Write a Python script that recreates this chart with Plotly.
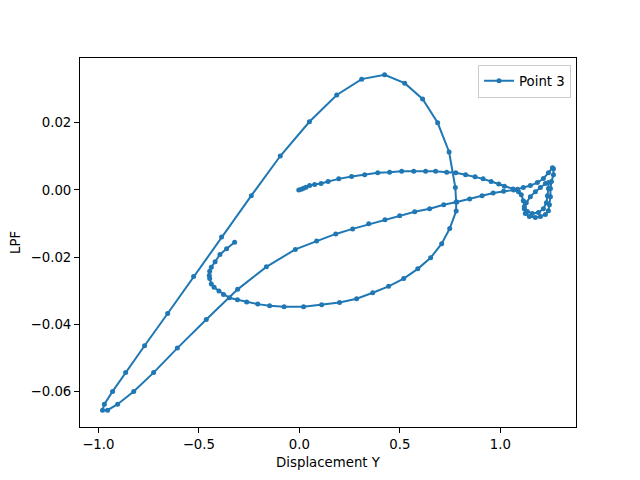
import plotly.graph_objects as go

# Trajectory of "Point 3": Displacement Y vs LPF
disp_y = [
    -0.003, 0.010, 0.021, 0.033, 0.051, 0.076, 0.108, 0.143, 0.196, 0.260,
    0.325, 0.390, 0.449, 0.509, 0.569, 0.628, 0.678, 0.733, 0.778, 0.827,
    0.874, 0.914, 0.954, 0.992, 1.020, 1.063,
    1.085, 1.114, 1.149, 1.184, 1.214, 1.239, 1.259, 1.264, 1.264, 1.254,
    1.249, 1.249, 1.244, 1.239, 1.224, 1.199, 1.174, 1.144, 1.124, 1.119,
    1.129, 1.149, 1.174, 1.199, 1.224, 1.239, 1.239, 1.234, 1.229, 1.214,
    1.189, 1.159, 1.134, 1.119, 1.114, 1.104, 1.090,
    1.066, 1.016, 0.964, 0.909, 0.847, 0.783, 0.718, 0.648, 0.574, 0.499,
    0.426, 0.345, 0.265, 0.181, 0.086, -0.020, -0.164, -0.307, -0.463, -0.607,
    -0.725, -0.824, -0.904, -0.954, -0.979,
    -0.970, -0.929, -0.864, -0.770, -0.655, -0.526, -0.387, -0.239, -0.095, 0.050,
    0.186, 0.310, 0.424, 0.524, 0.613, 0.688, 0.745, 0.776, 0.780, 0.780,
    0.748, 0.708, 0.653, 0.589, 0.519, 0.444, 0.365, 0.285, 0.200, 0.111,
    0.021, -0.076, -0.148, -0.207, -0.262, -0.308, -0.348, -0.377, -0.400, -0.424,
    -0.438, -0.446, -0.448, -0.446, -0.438, -0.419, -0.395, -0.362, -0.322,
]
lpf = [
    0.0000, 0.0002, 0.0005, 0.0008, 0.0013, 0.0016, 0.0019, 0.0025, 0.0033, 0.0040,
    0.0045, 0.0051, 0.0053, 0.0056, 0.0056, 0.0056, 0.0056, 0.0053, 0.0051, 0.0045,
    0.0039, 0.0033, 0.0025, 0.0018, 0.0011, 0.0003,
    0.0002, 0.0007, 0.0013, 0.0022, 0.0034, 0.0051, 0.0066, 0.0063, 0.0045, 0.0025,
    0.0004, -0.0020, -0.0044, -0.0062, -0.0073, -0.0079, -0.0082, -0.0079, -0.0070, -0.0056,
    -0.0038, -0.0020, -0.0005, 0.0007, 0.0019, 0.0022, 0.0004, -0.0017, -0.0038, -0.0056,
    -0.0067, -0.0070, -0.0064, -0.0050, -0.0032, -0.0014, -0.0005,
    0.0000, -0.0004, -0.0009, -0.0017, -0.0027, -0.0036, -0.0044, -0.0056, -0.0065, -0.0077,
    -0.0089, -0.0101, -0.0116, -0.0131, -0.0152, -0.0177, -0.0229, -0.0296, -0.0386, -0.0471,
    -0.0544, -0.0600, -0.0638, -0.0656, -0.0656,
    -0.0638, -0.0600, -0.0544, -0.0464, -0.0368, -0.0258, -0.0140, -0.0017, 0.0101, 0.0203,
    0.0283, 0.0330, 0.0343, 0.0318, 0.0271, 0.0200, 0.0113, 0.0007, -0.0036, -0.0063,
    -0.0115, -0.0160, -0.0202, -0.0235, -0.0264, -0.0287, -0.0306, -0.0324, -0.0335, -0.0342,
    -0.0348, -0.0348, -0.0345, -0.0340, -0.0334, -0.0327, -0.0321, -0.0311, -0.0301, -0.0290,
    -0.0280, -0.0264, -0.0255, -0.0242, -0.0230, -0.0214, -0.0192, -0.0175, -0.0156,
]

x_ticks = [-1.0, -0.5, 0.0, 0.5, 1.0]
y_ticks = [0.02, 0.00, -0.02, -0.04, -0.06]
series_name = "Point 3"


def fmt(v, nd):
    s = f"{v:.{nd}f}"
    return s.replace("-", "\u2212")


# matplotlib-style 5% autoscale margins
xmin, xmax = min(disp_y), max(disp_y)
ymin, ymax = min(lpf), max(lpf)
xpad = 0.05 * (xmax - xmin)
ypad = 0.05 * (ymax - ymin)

color = "#1f77b4"
font = dict(family="DejaVu Sans", size=13.3, color="black")

fig = go.Figure()
fig.add_trace(go.Scatter(
    x=disp_y, y=lpf, mode="lines+markers", name=series_name,
    line=dict(color=color, width=2),
    marker=dict(color=color, size=5),
    showlegend=True,
))

axis_common = dict(
    showgrid=False, zeroline=False, automargin=False,
    showline=True, linecolor="black", linewidth=1, mirror=True,
    ticks="outside", ticklen=5, tickwidth=1, tickcolor="black",
    tickfont=font,
)

# page body has an 8px default margin, so the figure is 8px smaller
fig.update_layout(
    width=632, height=472,
    margin=dict(l=72, r=64, t=50, b=53),
    paper_bgcolor="white", plot_bgcolor="white",
    font=font,
    xaxis=dict(
        range=[xmin - xpad, xmax + xpad],
        tickvals=x_ticks, ticktext=[fmt(v, 1) for v in x_ticks],
        title=dict(text="Displacement Y", font=font, standoff=6),
        **axis_common,
    ),
    yaxis=dict(
        range=[ymin - ypad, ymax + ypad],
        tickvals=y_ticks, ticktext=[fmt(v, 2) for v in y_ticks],
        title=dict(text="LPF", font=font, standoff=8),
        **axis_common,
    ),
    legend=dict(
        x=0.99, y=0.982, xanchor="right", yanchor="top",
        bgcolor="rgba(255,255,255,0.8)", bordercolor="#cccccc", borderwidth=1,
        font=font,
    ),
)

fig.write_html("out.html")
